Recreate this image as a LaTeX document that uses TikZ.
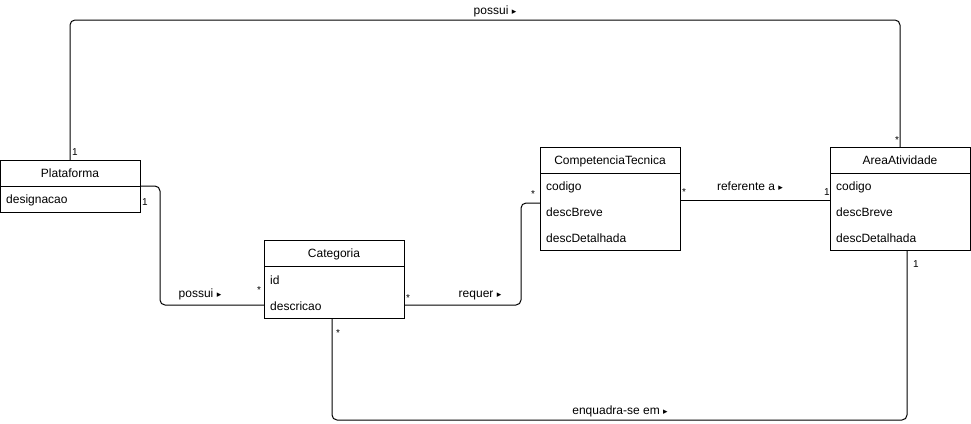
\documentclass[tikz,border=0pt]{standalone}
\usepackage{fontspec}
\setmainfont{Liberation Sans}
\newfontfamily\symfont{DejaVu Sans}
\begin{document}
\begin{tikzpicture}[x=1pt,y=-1pt,
  font=\fontsize{12}{14}\selectfont,
  classbox/.style={draw,line width=1pt,fill=white,anchor=north west,minimum width=140pt,outer sep=0pt,inner sep=0pt},
  sepline/.style={line width=1pt},
  attr/.style={anchor=base west,inner sep=0pt},
  ttl/.style={anchor=base,inner sep=0pt},
  conn/.style={line width=1pt,rounded corners=5pt},
  lbl/.style={anchor=base,inner sep=0pt},
  mult/.style={anchor=base,inner sep=0pt,font=\fontsize{10}{12}\selectfont}]
\useasboundingbox (0,0) rectangle (971,423);
\newcommand{\tri}{{\symfont\fontsize{9}{10}\selectfont ▸}}

% Plataforma
\node[classbox,minimum height=52pt] (plat) at (0,160) {};
\node[ttl] (platT) at (70,177.5) {Plataforma};
\draw[sepline] (0,186) -- (140,186);
\node[attr] (plat1) at (6,203.5) {designacao};

% Categoria
\node[classbox,minimum height=78pt] (cat) at (264,240) {};
\node[ttl] (catT) at (334,257.5) {Categoria};
\draw[sepline] (264,266) -- (404,266);
\node[attr] (cat1) at (270,284.5) {id};
\node[attr] (cat2) at (270,310.5) {descricao};

% CompetenciaTecnica
\node[classbox,minimum height=103pt] (ct) at (540,147) {};
\node[ttl] (ctT) at (610,164.5) {CompetenciaTecnica};
\draw[sepline] (540,173) -- (680,173);
\node[attr] (ct1) at (546,190.5) {codigo};
\node[attr] (ct2) at (546,216.5) {descBreve};
\node[attr] (ct3) at (546,242.5) {descDetalhada};

% AreaAtividade
\node[classbox,minimum height=103pt] (aa) at (830,147) {};
\node[ttl] (aaT) at (900,164.5) {AreaAtividade};
\draw[sepline] (830,173) -- (970,173);
\node[attr] (aa1) at (836,190.5) {codigo};
\node[attr] (aa2) at (836,216.5) {descBreve};
\node[attr] (aa3) at (836,242.5) {descDetalhada};

% connectors
\draw[conn] (plat.north) -- (70,20) -| (aa.north);
\node[lbl] (l1) at (495,14.5) {possui \tri};
\node[mult] (m1a) at (75,155) {1};
\node[mult] (m1b) at (897,143) {*};

\draw[conn] (plat.east) -| (160,305) -- (cat.west |- 0,305);
\node[lbl] (l2) at (200,297.5) {possui \tri};
\node[mult] (m2a) at (145,205) {1};
\node[mult] (m2b) at (259,293) {*};

\draw[conn] (cat.east |- 0,305) -| (521,203) -- (ct.west |- 0,203);
\node[lbl] (l3) at (480,297.5) {requer \tri};
\node[mult] (m3a) at (408,301) {*};
\node[mult] (m3b) at (533,197) {*};

\draw[conn] (ct.east |- 0,200) -- (aa.west |- 0,200);
\node[lbl] (l4) at (750,190.5) {referente a \tri};
\node[mult] (m4a) at (684,195) {*};
\node[mult] (m4b) at (827,195) {1};

\draw[conn] (cat.south -| 332,0) -- (332,420) -| (aa.south -| 907,0);
\node[lbl] (l5) at (620,414.5) {enquadra-se em \tri};
\node[mult] (m5a) at (338,336) {*};
\node[mult] (m5b) at (916,267) {1};
\end{tikzpicture}
\end{document}
